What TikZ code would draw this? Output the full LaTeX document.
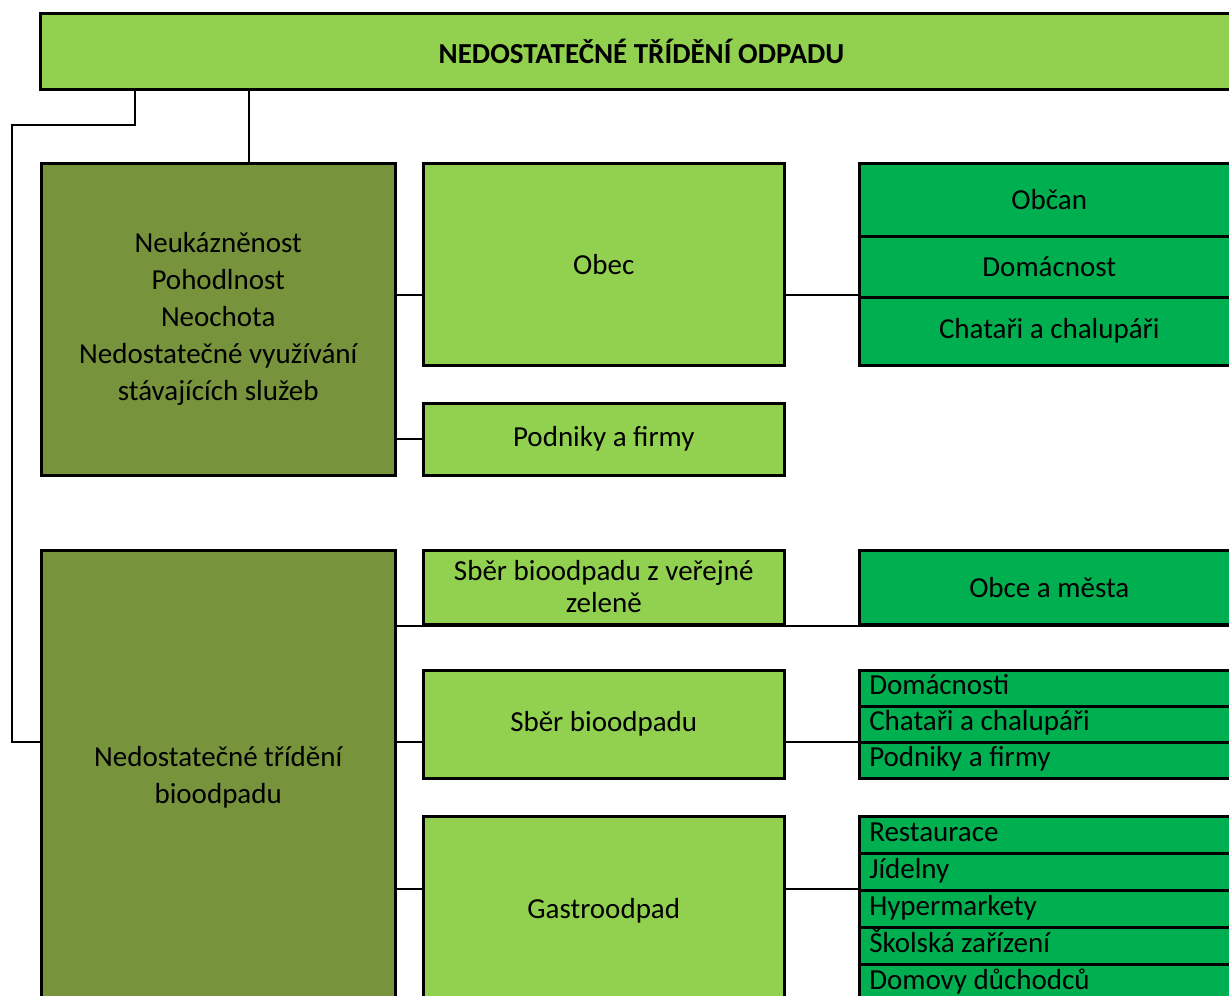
\documentclass[tikz,border=0pt]{standalone}
\usepackage{fontspec}
\setmainfont{Carlito}
\definecolor{svetla}{HTML}{92D050}
\definecolor{tmava}{HTML}{77933C}
\definecolor{syta}{HTML}{00B050}
\begin{document}
\begin{tikzpicture}[x=1pt,y=-1pt,
  box/.style={draw,line width=2.5pt,inner sep=0pt,anchor=north west,align=center,
    font=\fontsize{29}{37}\selectfont},
  radek/.style={box,fill=syta,minimum width=380,text height=20pt,text depth=7pt},
  spoj/.style={line width=2pt}]
\useasboundingbox (0,0) rectangle (1229,996);
\clip (0,0) rectangle (1229,996);
% Hlavni problem
\node[box,fill=svetla,line width=3pt,minimum width=1202,minimum height=76,
  font=\bfseries\fontsize{29}{37}\selectfont] (hlavni) at (39,12) {NEDOSTATEČNÉ TŘÍDĚNÍ ODPADU};
% Prvni vetev (odpad)
\node[box,fill=tmava,minimum width=354,minimum height=312] (pricina) at (40,162)
  {Neukázněnost\\Pohodlnost\\Neochota\\Nedostatečné využívání\\stávajících služeb};
\node[box,fill=svetla,minimum width=361,minimum height=202] (obec) at (422,162) {Obec};
\node[box,fill=svetla,minimum width=361,minimum height=72] (podniky) at (422,402) {Podniky a firmy};
\node[box,fill=syta,minimum width=380,minimum height=73] (obcan) at (858,162) {Občan};
\node[box,fill=syta,minimum width=380,minimum height=61] (domacnost) at (858,235) {Domácnost};
\node[box,fill=syta,minimum width=380,minimum height=68] (chatari) at (858,296) {Chataři a chalupáři};
% Druha vetev (bioodpad)
\node[box,fill=tmava,minimum width=354,minimum height=454] (bio) at (40,549)
  {Nedostatečné třídění\\bioodpadu};
\node[box,fill=svetla,minimum width=361,minimum height=74,text height=50pt,text depth=0pt,
  font=\fontsize{29}{32}\selectfont] (zelen) at (422,549) {Sběr bioodpadu z veřejné\\zeleně};
\node[box,fill=syta,minimum width=380,minimum height=74] (mesta) at (858,549) {Obce a města};
\node[box,fill=svetla,minimum width=361,minimum height=108] (sber) at (422,669) {Sběr bioodpadu};
\node[box,fill=svetla,minimum width=361,minimum height=190] (gastro) at (422,815) {Gastroodpad};
% Seznamy vpravo
\foreach \t [count=\i] in {Domácnosti,Chataři a chalupáři,Podniky a firmy}
  \node[radek,minimum height=36] (s\i) at (858,{669+36*(\i-1)}) {\makebox[360pt][l]{\t}};
\foreach \t [count=\i] in {Restaurace,Jídelny,Hypermarkety,Školská zařízení,Domovy důchodců}
  \node[radek,minimum height=37] (g\i) at (858,{815+37*(\i-1)}) {\makebox[360pt][l]{\t}};
% Pomocne body spojnic
\coordinate (k1) at (249,0);
\coordinate (k2) at (135,125);
\coordinate (k3) at (12,125);
\coordinate (y1) at (0,295);
\coordinate (y2) at (0,742);
\coordinate (y3) at (0,889);
% Spojnice
\draw[spoj] (hlavni.south -| k1) -- (pricina.north -| k1);
\draw[spoj] (hlavni.south -| k2) -- (k2) -- (k3) |- (bio.west |- y2);
\draw[spoj] (pricina.east |- y1) -- (obec.west |- y1);
\draw[spoj] (obec.east |- y1) -- (obcan.west |- y1);
\draw[spoj] (pricina.east |- podniky.west) -- (podniky.west);
\draw[spoj] (bio.east |- mesta.south) -- (mesta.south east);
\draw[spoj] (bio.east |- y2) -- (sber.west |- y2);
\draw[spoj] (sber.east |- y2) -- (s1.west |- y2);
\draw[spoj] (bio.east |- y3) -- (gastro.west |- y3);
\draw[spoj] (gastro.east |- y3) -- (g1.west |- y3);
\end{tikzpicture}
\end{document}
